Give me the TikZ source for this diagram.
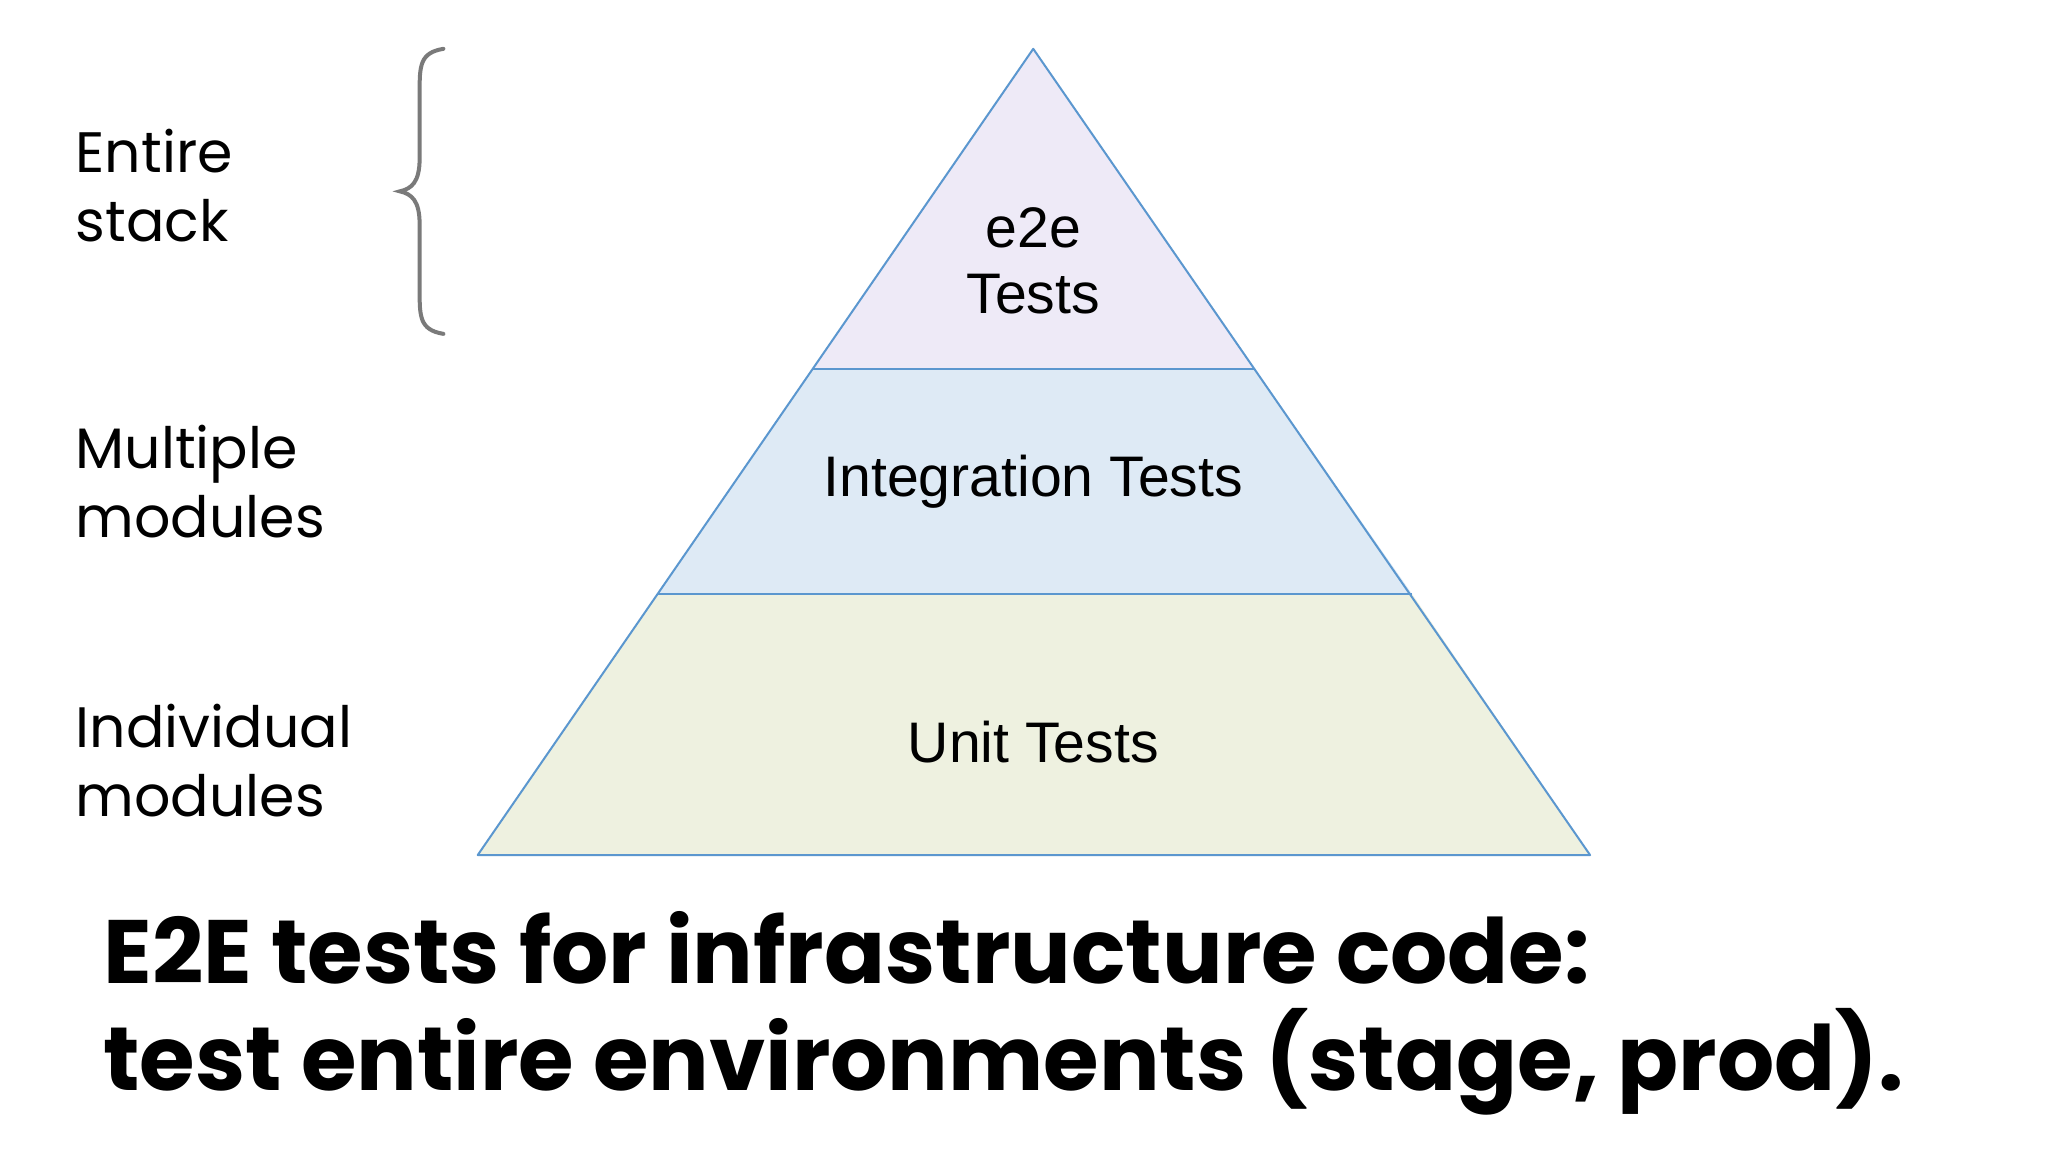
\documentclass[tikz,border=0pt]{standalone}
\usepackage{fontspec}
\setmainfont{Liberation Sans}
\newfontfamily\popf{Poppins}
\definecolor{edge}{HTML}{5B97CF}
\definecolor{ftop}{HTML}{EEEAF7}
\definecolor{fmid}{HTML}{DEEAF5}
\definecolor{fbot}{HTML}{EEF1E0}
\definecolor{bracec}{HTML}{7A7A7A}
\tikzset{
  layer/.style={draw=edge, line width=1pt, line join=round},
  ptext/.style={font=\fontsize{28.6}{33}\selectfont, text=black, align=center},
  side/.style={font=\popf\fontsize{28.5}{34.5}\selectfont, anchor=west, align=left, inner sep=0pt},
  title/.style={font=\popf\bfseries\fontsize{45}{53.5}\selectfont, anchor=west, align=left, inner sep=0pt}
}
\begin{document}
\begin{tikzpicture}[x=0.66pt,y=-0.66pt]
\useasboundingbox[fill=white] (0,0) rectangle (1552,873);
\coordinate (apex) at (783,37);
\coordinate (bl) at (362,648);
\coordinate (br) at (1205,648);
\coordinate (ml) at (616,280);
\coordinate (mr) at (951,280);
\coordinate (ll) at (498,450);
\coordinate (lr) at (1070,450);
\fill[fbot] (ll) -- (lr) -- (br) -- (bl) -- cycle;
\fill[fmid] (ml) -- (mr) -- (lr) -- (ll) -- cycle;
\fill[ftop] (apex) -- (mr) -- (ml) -- cycle;
\draw[layer] (apex) -- (br) -- (bl) -- cycle;
\draw[layer] (ml) -- (mr);
\draw[layer] (ll) -- (lr);
\node[ptext] (e2e) at (783,198) {e2e\\Tests};
\node[ptext] (integ) at (783,365) {Integration Tests};
\node[ptext] (unit) at (783,562) {Unit Tests};
\node[side] (l1) at (57,141) {Entire\\stack};
\node[side] (l2) at (57,365) {Multiple\\modules};
\node[side] (l3) at (57,576) {Individual\\modules};
\draw[bracec, line width=2pt, line cap=round]
  (336,37) .. controls (318,40) and (318,50) .. (318,70)
  -- (318,120) .. controls (318,138) and (312,143) .. (303,145)
  .. controls (312,147) and (318,152) .. (318,170)
  -- (318,220) .. controls (318,240) and (318,250) .. (336,253);
\node[title] (t) at (78,768) {E2E tests for infrastructure code:\\test entire environments (stage, prod).};
\end{tikzpicture}
\end{document}
